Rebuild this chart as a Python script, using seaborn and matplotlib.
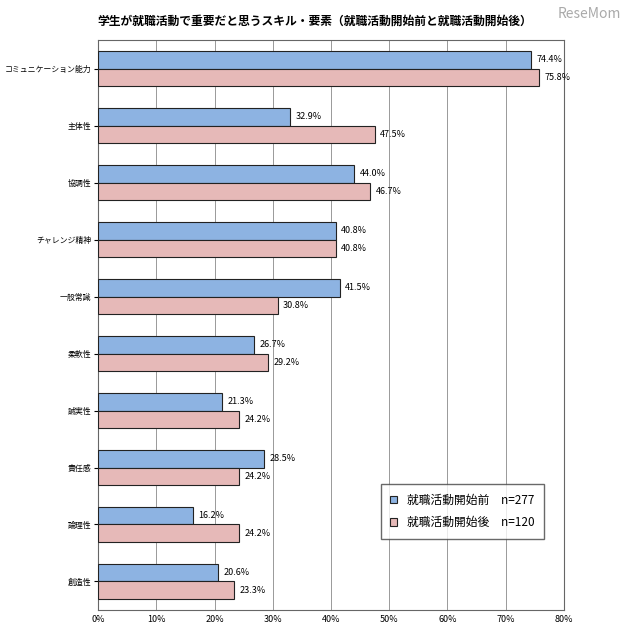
import pandas as pd
import seaborn as sns
import matplotlib
matplotlib.use('Agg')
import matplotlib.pyplot as plt
from matplotlib.ticker import FuncFormatter

plt.rcParams['font.family'] = ['Noto Sans CJK JP', 'DejaVu Sans']

# data
categories = ["コミュニケーション能力", "主体性", "協調性", "チャレンジ精神", "一般常識",
              "柔軟性", "誠実性", "責任感", "論理性", "創造性"]
before = [74.4, 32.9, 44.0, 40.8, 41.5, 26.7, 21.3, 28.5, 16.2, 20.6]
after = [75.8, 47.5, 46.7, 40.8, 30.8, 29.2, 24.2, 24.2, 24.2, 23.3]
series = ["就職活動開始前\u3000n=277", "就職活動開始後\u3000n=120"]
colors = ["#8db3e2", "#e6b9b8"]

df = pd.DataFrame({
    "skill": categories * 2,
    "value": before + after,
    "group": [series[0]] * len(categories) + [series[1]] * len(categories),
})

fig = plt.figure(figsize=(6.3, 6.4), dpi=100)
ax = fig.add_axes([0.156, 0.047, 0.739, 0.89])

sns.barplot(data=df, y="skill", x="value", hue="group", palette=colors,
            orient="h", width=0.62, edgecolor="#222222", linewidth=0.8,
            saturation=1, ax=ax, zorder=3)

for cont in ax.containers:
    ax.bar_label(cont, labels=[f"{v:.1f}%" for v in cont.datavalues],
                 padding=4, fontsize=6.5)

ax.set_xlim(0, 80)
ax.set_xticks(range(0, 81, 10))
ax.xaxis.set_major_formatter(FuncFormatter(lambda v, p: f"{int(v)}%"))
ax.tick_params(axis='x', labelsize=6.5, length=0)
ax.tick_params(axis='y', labelsize=5.7, length=3, pad=2)
ax.set_xlabel("")
ax.set_ylabel("")
ax.grid(axis='x', color="#999999", linestyle="-", linewidth=0.7, zorder=0)
for s in ax.spines.values():
    s.set_color("#666666")
    s.set_linewidth(0.8)

leg = ax.legend(loc="lower right", bbox_to_anchor=(0.97, 0.115), fontsize=8.5,
                frameon=True, fancybox=False, edgecolor="#444444",
                handlelength=0.6, handleheight=0.6, borderpad=0.8,
                labelspacing=0.8)

fig.text(0.5, 0.962, "学生が就職活動で重要だと思うスキル・要素（就職活動開始前と就職活動開始後）",
         ha="center", fontsize=8.5, fontweight="bold")
fig.text(0.985, 0.972, "ReseMom", ha="right", fontsize=10, color="#aaaaaa")

plt.savefig("out.png", dpi=100)
